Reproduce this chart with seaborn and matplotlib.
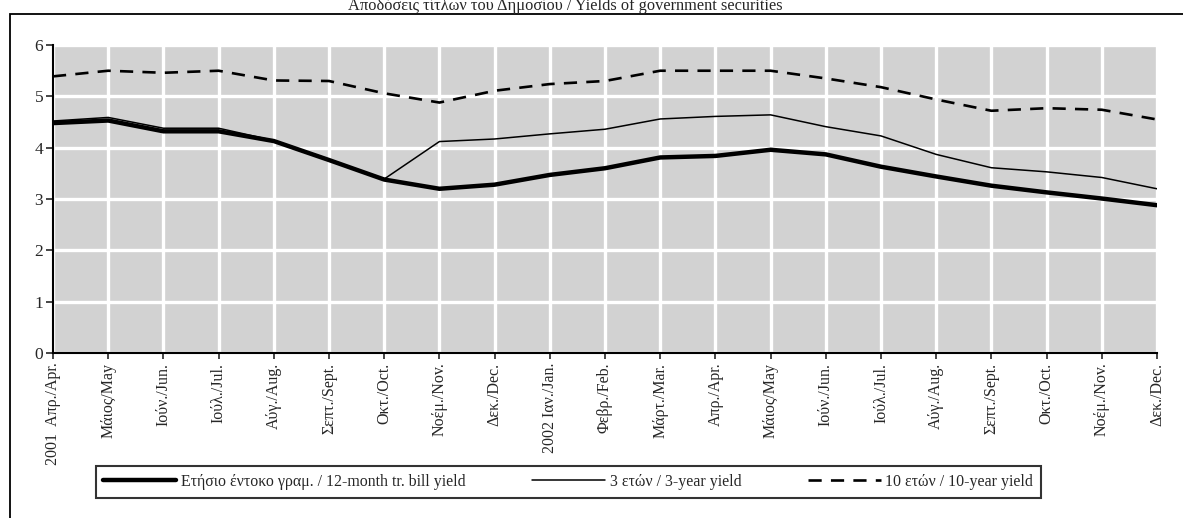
import matplotlib
matplotlib.use("Agg")
import matplotlib.pyplot as plt
from matplotlib.patches import Rectangle
import seaborn as sns
import pandas as pd
import numpy as np

months = ["2001  Απρ./Apr.", "Μάιος/May", "Ιούν./Jun.", "Ιούλ./Jul.", "Αύγ./Aug.",
          "Σεπτ./Sept.", "Οκτ./Oct.", "Νοέμ./Nov.", "Δεκ./Dec.", "2002 Ιαν./Jan.",
          "Φεβρ./Feb.", "Μάρτ./Mar.", "Απρ./Apr.", "Μάιος/May", "Ιούν./Jun.",
          "Ιούλ./Jul.", "Αύγ./Aug.", "Σεπτ./Sept.", "Οκτ./Oct.", "Νοέμ./Nov.", "Δεκ./Dec."]

bill_12m = [4.48, 4.53, 4.32, 4.32, 4.13, 3.76, 3.38, 3.20, 3.28, 3.47, 3.60,
            3.81, 3.84, 3.96, 3.87, 3.63, 3.44, 3.26, 3.13, 3.01, 2.88]
yield_3y = [4.52, 4.59, 4.38, 4.38, 4.14, 3.77, 3.39, 4.12, 4.17, 4.27, 4.36,
            4.56, 4.61, 4.64, 4.41, 4.23, 3.87, 3.61, 3.53, 3.42, 3.20]
yield_10y = [5.39, 5.50, 5.46, 5.50, 5.31, 5.30, 5.06, 4.88, 5.11, 5.24, 5.30,
             5.50, 5.50, 5.50, 5.35, 5.18, 4.94, 4.72, 4.77, 4.74, 4.55]

labels = ["Ετήσιο έντοκο γραμ. / 12-month tr. bill yield",
          "3 ετών / 3-year yield",
          "10 ετών / 10-year yield"]
title = "Αποδόσεις τίτλων του Δημοσίου / Yields of government securities"

df = pd.DataFrame({"pos": np.arange(len(months)),
                   labels[0]: bill_12m, labels[1]: yield_3y, labels[2]: yield_10y})

sns.set_style("white")
plt.rcParams["font.family"] = ["Liberation Serif", "DejaVu Serif"]

fig = plt.figure(figsize=(11.83, 5.18), dpi=100)
ax = fig.add_axes([0.0448, 0.3185, 0.9332, 0.5945])
ax.set_facecolor("#d2d2d2")

sns.lineplot(data=df, x="pos", y=labels[0], ax=ax, color="black", lw=3.2, label=labels[0])
sns.lineplot(data=df, x="pos", y=labels[1], ax=ax, color="black", lw=1.1, label=labels[1])
sns.lineplot(data=df, x="pos", y=labels[2], ax=ax, color="black", lw=1.9,
             dashes=False, label=labels[2])
ax.lines[2].set_dashes([5, 3.5])

ax.set_xlim(0, len(months) - 1)
ax.set_ylim(0, 6)
ax.set_xticks(df["pos"])
ax.set_xticklabels(months, rotation=90, fontsize=11.5)
ax.set_yticks(range(7))
ax.tick_params(axis="y", labelsize=12.5, length=5, width=1.2, direction="out", left=True, pad=2)
ax.tick_params(axis="x", length=4, width=1.2, direction="out", bottom=True, pad=3)
ax.set_xlabel("")
ax.set_ylabel("")
ax.grid(True, color="white", lw=2.4)
ax.set_axisbelow(True)
for s in ["top", "right"]:
    ax.spines[s].set_visible(False)
for s in ["left", "bottom"]:
    ax.spines[s].set_color("black")
    ax.spines[s].set_linewidth(1.5)
    ax.spines[s].set_zorder(5)

leg = ax.legend(loc="center", bbox_to_anchor=(0.4805, 0.0695), bbox_transform=fig.transFigure,
                ncol=3, frameon=True, fancybox=False, edgecolor="black", fontsize=11.4,
                handlelength=4.6, columnspacing=4.2, handletextpad=0.3,
                borderpad=0.5)
leg.get_frame().set_linewidth(1.5)

fig.text(0.478, 1 - 10.5 / 518, title, ha="center", va="baseline", fontsize=11.8)

# outer frame (top and left edge)
fig.add_artist(Rectangle((10 / 1183, -0.01), 1.1, 1 - 14 / 518 + 0.01, transform=fig.transFigure,
                         fill=False, edgecolor="black", lw=1.3))

fig.savefig("out.png", dpi=100)
